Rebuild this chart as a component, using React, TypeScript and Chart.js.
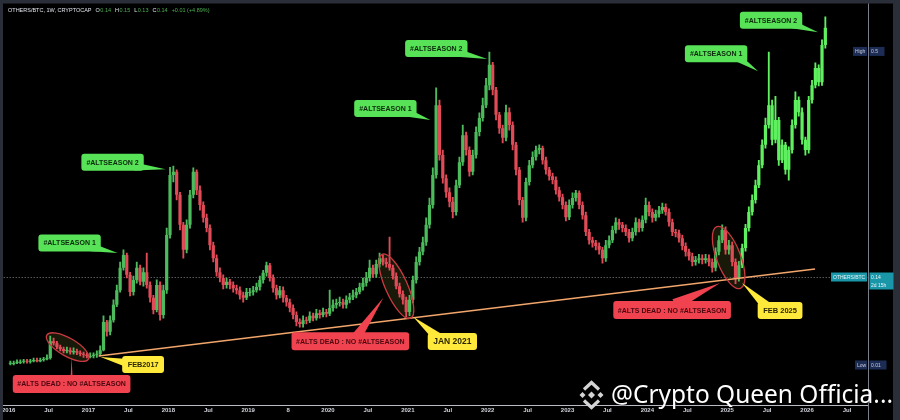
import React, { useEffect, useRef } from "react";
import { Chart, registerables } from "chart.js";

Chart.register(...registerables);

// ---------------- data (OTHERS/BTC, half-month candles) ----------------
const START_YEAR = 2016;
const PERIODS_PER_YEAR = 24;
const FIRST_OPEN = 0.012;

const CLOSE_2016 = [0.013, 0.013, 0.015, 0.015, 0.016, 0.015, 0.016, 0.018, 0.016, 0.018, 0.019, 0.021, 0.047, 0.044, 0.038, 0.035, 0.032, 0.033, 0.030, 0.032, 0.029, 0.027, 0.026, 0.024];
const HIGH_2016 = [0.016, 0.016, 0.018, 0.018, 0.019, 0.019, 0.019, 0.021, 0.021, 0.021, 0.022, 0.026, 0.055, 0.052, 0.047, 0.041, 0.038, 0.038, 0.037, 0.037, 0.035, 0.032, 0.030, 0.029];
const LOW_2016 = [0.010, 0.010, 0.012, 0.012, 0.013, 0.013, 0.013, 0.015, 0.015, 0.015, 0.016, 0.018, 0.019, 0.041, 0.035, 0.032, 0.029, 0.029, 0.027, 0.027, 0.026, 0.024, 0.022, 0.021];

const CLOSE_2017 = [0.024, 0.026, 0.027, 0.033, 0.077, 0.062, 0.080, 0.104, 0.127, 0.162, 0.182, 0.151, 0.124, 0.143, 0.162, 0.140, 0.155, 0.135, 0.115, 0.096, 0.135, 0.088, 0.127, 0.213];
const HIGH_2017 = [0.029, 0.029, 0.032, 0.040, 0.087, 0.080, 0.087, 0.112, 0.135, 0.171, 0.190, 0.185, 0.155, 0.149, 0.171, 0.166, 0.162, 0.185, 0.140, 0.119, 0.143, 0.140, 0.135, 0.224];
const LOW_2017 = [0.021, 0.021, 0.022, 0.024, 0.032, 0.055, 0.057, 0.077, 0.101, 0.124, 0.158, 0.146, 0.118, 0.119, 0.138, 0.135, 0.133, 0.130, 0.108, 0.090, 0.093, 0.080, 0.083, 0.122];

const CLOSE_2018 = [0.307, 0.312, 0.276, 0.229, 0.190, 0.229, 0.276, 0.312, 0.283, 0.260, 0.240, 0.224, 0.197, 0.177, 0.155, 0.146, 0.135, 0.140, 0.135, 0.130, 0.127, 0.119, 0.115, 0.124];
const HIGH_2018 = [0.319, 0.321, 0.315, 0.280, 0.233, 0.237, 0.283, 0.318, 0.315, 0.290, 0.265, 0.246, 0.229, 0.202, 0.182, 0.162, 0.151, 0.146, 0.144, 0.140, 0.135, 0.132, 0.124, 0.130];
const LOW_2018 = [0.208, 0.296, 0.268, 0.221, 0.177, 0.185, 0.224, 0.271, 0.276, 0.252, 0.233, 0.218, 0.190, 0.171, 0.149, 0.140, 0.129, 0.130, 0.129, 0.124, 0.121, 0.113, 0.108, 0.112];

const CLOSE_2019 = [0.124, 0.127, 0.132, 0.143, 0.154, 0.166, 0.146, 0.130, 0.119, 0.127, 0.115, 0.108, 0.099, 0.088, 0.077, 0.074, 0.080, 0.079, 0.087, 0.083, 0.091, 0.088, 0.093, 0.090];
const HIGH_2019 = [0.130, 0.133, 0.138, 0.149, 0.158, 0.171, 0.169, 0.151, 0.135, 0.133, 0.132, 0.119, 0.113, 0.104, 0.093, 0.082, 0.087, 0.085, 0.093, 0.091, 0.097, 0.096, 0.099, 0.097];
const LOW_2019 = [0.118, 0.119, 0.124, 0.127, 0.138, 0.149, 0.141, 0.124, 0.113, 0.115, 0.108, 0.102, 0.093, 0.082, 0.071, 0.069, 0.069, 0.074, 0.076, 0.079, 0.080, 0.083, 0.085, 0.085];

const CLOSE_2020 = [0.099, 0.104, 0.107, 0.108, 0.104, 0.112, 0.116, 0.119, 0.124, 0.132, 0.138, 0.146, 0.162, 0.152, 0.168, 0.177, 0.171, 0.168, 0.162, 0.149, 0.133, 0.121, 0.112, 0.093];
const HIGH_2020 = [0.127, 0.112, 0.113, 0.116, 0.113, 0.118, 0.122, 0.127, 0.130, 0.138, 0.146, 0.155, 0.174, 0.166, 0.174, 0.185, 0.182, 0.177, 0.210, 0.166, 0.154, 0.138, 0.126, 0.116];
const LOW_2020 = [0.087, 0.094, 0.099, 0.102, 0.099, 0.099, 0.107, 0.112, 0.115, 0.121, 0.127, 0.133, 0.141, 0.147, 0.147, 0.163, 0.166, 0.163, 0.158, 0.144, 0.129, 0.116, 0.105, 0.085];

const CLOSE_2021 = [0.112, 0.143, 0.171, 0.187, 0.202, 0.229, 0.260, 0.307, 0.416, 0.338, 0.302, 0.280, 0.265, 0.249, 0.291, 0.327, 0.369, 0.346, 0.312, 0.338, 0.374, 0.396, 0.416, 0.447];
const HIGH_2021 = [0.119, 0.149, 0.179, 0.194, 0.210, 0.240, 0.271, 0.318, 0.443, 0.424, 0.346, 0.307, 0.287, 0.272, 0.299, 0.335, 0.385, 0.374, 0.351, 0.346, 0.382, 0.404, 0.427, 0.458];
const LOW_2021 = [0.087, 0.107, 0.138, 0.166, 0.182, 0.197, 0.224, 0.255, 0.302, 0.330, 0.294, 0.272, 0.257, 0.240, 0.244, 0.287, 0.322, 0.338, 0.305, 0.307, 0.333, 0.368, 0.391, 0.412];

const CLOSE_2022 = [0.479, 0.440, 0.401, 0.380, 0.365, 0.405, 0.385, 0.354, 0.315, 0.268, 0.240, 0.296, 0.322, 0.335, 0.346, 0.349, 0.330, 0.315, 0.305, 0.299, 0.283, 0.272, 0.260, 0.241];
const HIGH_2022 = [0.499, 0.483, 0.444, 0.405, 0.385, 0.416, 0.412, 0.390, 0.358, 0.319, 0.272, 0.302, 0.330, 0.343, 0.352, 0.354, 0.352, 0.335, 0.319, 0.310, 0.304, 0.288, 0.277, 0.265];
const LOW_2022 = [0.440, 0.432, 0.393, 0.372, 0.357, 0.360, 0.377, 0.346, 0.307, 0.260, 0.233, 0.235, 0.291, 0.318, 0.330, 0.340, 0.324, 0.308, 0.299, 0.293, 0.277, 0.266, 0.254, 0.235];

const CLOSE_2023 = [0.260, 0.271, 0.279, 0.260, 0.244, 0.218, 0.205, 0.201, 0.196, 0.190, 0.177, 0.197, 0.205, 0.221, 0.233, 0.229, 0.224, 0.218, 0.208, 0.218, 0.233, 0.224, 0.237, 0.260];
const HIGH_2023 = [0.268, 0.279, 0.283, 0.282, 0.265, 0.249, 0.222, 0.210, 0.205, 0.201, 0.194, 0.205, 0.212, 0.227, 0.240, 0.238, 0.233, 0.229, 0.222, 0.224, 0.240, 0.238, 0.243, 0.271];
const LOW_2023 = [0.237, 0.255, 0.266, 0.254, 0.238, 0.212, 0.199, 0.194, 0.190, 0.183, 0.169, 0.172, 0.193, 0.201, 0.216, 0.222, 0.218, 0.212, 0.202, 0.204, 0.213, 0.218, 0.219, 0.232];

const CLOSE_2024 = [0.249, 0.240, 0.246, 0.252, 0.257, 0.249, 0.233, 0.218, 0.216, 0.208, 0.196, 0.187, 0.180, 0.171, 0.174, 0.177, 0.174, 0.177, 0.171, 0.162, 0.187, 0.205, 0.221, 0.190];
const HIGH_2024 = [0.265, 0.254, 0.252, 0.258, 0.263, 0.262, 0.254, 0.238, 0.222, 0.221, 0.213, 0.201, 0.191, 0.185, 0.180, 0.183, 0.182, 0.183, 0.182, 0.176, 0.193, 0.212, 0.229, 0.226];
const LOW_2024 = [0.243, 0.233, 0.235, 0.241, 0.247, 0.244, 0.227, 0.212, 0.210, 0.202, 0.190, 0.180, 0.174, 0.165, 0.166, 0.169, 0.168, 0.169, 0.165, 0.155, 0.157, 0.182, 0.201, 0.183];

const CLOSE_2025 = [0.197, 0.171, 0.146, 0.166, 0.193, 0.224, 0.249, 0.268, 0.291, 0.322, 0.354, 0.385, 0.416, 0.362, 0.393, 0.330, 0.354, 0.315, 0.346, 0.385, 0.424, 0.405, 0.362, 0.346];
const HIGH_2025 = [0.205, 0.202, 0.176, 0.172, 0.199, 0.230, 0.257, 0.276, 0.299, 0.330, 0.362, 0.396, 0.499, 0.424, 0.430, 0.397, 0.362, 0.358, 0.351, 0.393, 0.437, 0.429, 0.412, 0.366];
const LOW_2025 = [0.183, 0.165, 0.137, 0.141, 0.162, 0.188, 0.219, 0.244, 0.263, 0.287, 0.318, 0.349, 0.380, 0.354, 0.357, 0.322, 0.326, 0.308, 0.299, 0.341, 0.380, 0.399, 0.355, 0.338];

const CLOSE_2026 = [0.424, 0.447, 0.474, 0.452, 0.510, 0.537];
const HIGH_2026 = [0.430, 0.455, 0.482, 0.479, 0.518, 0.554];
const LOW_2026 = [0.341, 0.419, 0.443, 0.446, 0.447, 0.505];

const CLOSES = [...CLOSE_2016, ...CLOSE_2017, ...CLOSE_2018, ...CLOSE_2019, ...CLOSE_2020, ...CLOSE_2021, ...CLOSE_2022, ...CLOSE_2023, ...CLOSE_2024, ...CLOSE_2025, ...CLOSE_2026];
const HIGHS = [...HIGH_2016, ...HIGH_2017, ...HIGH_2018, ...HIGH_2019, ...HIGH_2020, ...HIGH_2021, ...HIGH_2022, ...HIGH_2023, ...HIGH_2024, ...HIGH_2025, ...HIGH_2026];
const LOWS = [...LOW_2016, ...LOW_2017, ...LOW_2018, ...LOW_2019, ...LOW_2020, ...LOW_2021, ...LOW_2022, ...LOW_2023, ...LOW_2024, ...LOW_2025, ...LOW_2026];

// candles after this date are drawn in the "projection" green
const PROJECTION_FROM = 2025.18;

// support trend line (time, value)
const TREND_X = [2017.126, 2026.1];
const TREND_Y = [0.024, 0.16];

// x-axis ticks
const TICK_VALUES = [2016, 2016.5, 2017, 2017.5, 2018, 2018.5, 2019, 2019.5, 2020, 2020.5, 2021, 2021.5, 2022, 2022.5, 2023, 2023.5, 2024, 2024.5, 2025, 2025.5, 2026, 2026.5];
const TICK_LABELS = ["2016", "Jul", "2017", "Jul", "2018", "Jul", "2019", "8", "2020", "Jul", "2021", "Jul", "2022", "Jul", "2023", "Jul", "2024", "Jul", "2025", "Jul", "2026", "Jul"];

// price scale labels
const HIGH_VALUE = 0.5;
const HIGH_TEXT = "0.5";
const LOW_VALUE = 0.01;
const LOW_TEXT = "0.01";
const LAST_VALUE = 0.1475;
const LAST_TEXT = "0.14";
const COUNTDOWN_TEXT = "2d 15h";
const SYMBOL_TEXT = "OTHERS/BTC";

// header
const HEADER_TITLE = "OTHERS/BTC, 1W, CRYPTOCAP";
const HEADER_OHLC = [["O", "0.14"], ["H", "0.15"], ["L", "0.13"], ["C", "0.14"]];
const HEADER_CHANGE = "+0.01 (+4.89%)";

const WATERMARK = "@Crypto Queen Officia...";

// annotations (anchor in data coords, box offset in px)
const CALLOUTS = [
  { text: "#ALTSEASON 1", kind: "green", x: 2017.364, y: 0.185, dx: -48, dy: -10, ax: 0.7, ay: 0.5, bw: 4, size: 7 },
  { text: "#ALTSEASON 2", kind: "green", x: 2017.965, y: 0.316, dx: -53, dy: -7, ax: 0.7, ay: 0.5, bw: 4, size: 7 },
  { text: "#ALTSEASON 1", kind: "green", x: 2021.282, y: 0.393, dx: -45, dy: -11.5, ax: 0.7, ay: 0.5, bw: 4, size: 7 },
  { text: "#ALTSEASON 2", kind: "green", x: 2021.995, y: 0.488, dx: -51, dy: -10.5, ax: 0.7, ay: 0.5, bw: 4, size: 7 },
  { text: "#ALTSEASON 1", kind: "green", x: 2025.387, y: 0.469, dx: -42, dy: -17.5, ax: 0.7, ay: 0.5, bw: 4, size: 7 },
  { text: "#ALTSEASON 2", kind: "green", x: 2026.138, y: 0.53, dx: -47, dy: -12, ax: 0.7, ay: 0.5, bw: 4, size: 7 },
  { text: "#ALTS DEAD : NO #ALTSEASON", kind: "red", x: 2016.788, y: 0.0225, dx: 0, dy: 27, ax: 0, ay: -0.6, bw: 1, size: 7 },
  { text: "#ALTS DEAD : NO #ALTSEASON", kind: "red", x: 2020.693, y: 0.115, dx: -33, dy: 43.5, ax: 0.12, ay: -0.6, bw: 5, size: 7 },
  { text: "#ALTS DEAD : NO #ALTSEASON", kind: "red", x: 2024.911, y: 0.138, dx: -48, dy: 27, ax: 0.05, ay: -0.6, bw: 6, size: 7 },
  { text: "FEB2017", kind: "yellow", x: 2017.151, y: 0.0225, dx: 42.5, dy: 7.5, ax: -0.8, ay: -0.2, bw: 4, size: 7.3 },
  { text: "JAN 2021", kind: "yellow", x: 2021.069, y: 0.085, dx: 39, dy: 24.5, ax: -0.6, ay: -0.5, bw: 5, size: 8.5 },
  { text: "FEB 2025", kind: "yellow", x: 2025.186, y: 0.138, dx: 38, dy: 27.5, ax: -0.6, ay: -0.5, bw: 5, size: 7.5 },
];

const ELLIPSES = [
  { x: 2016.738, y: 0.038, rx: 24, ry: 9, rot: 30 },
  { x: 2020.856, y: 0.133, rx: 35, ry: 11, rot: 66 },
  { x: 2025.018, y: 0.178, rx: 33, ry: 12, rot: 69 },
];

// ---------------- styles ----------------
const UP = "#4cbb5c";
const DOWN = "#e04b57";
const PROJ = "#5ef05e";
const FRAME = "#2a2e39";
const FONT = '"Liberation Sans", Arial, sans-serif';
const KIND_STYLE: Record<string, { bg: string; fg: string; h: number; pad: number }> = {
  green: { bg: "#57e257", fg: "#0d2a0d", h: 17, pad: 10 },
  red: { bg: "#f0434f", fg: "#4d0710", h: 18, pad: 9 },
  yellow: { bg: "#ffe93a", fg: "#2b2600", h: 17, pad: 11 },
};

// ---------------- derived ----------------
const TIMES = CLOSES.map((_, i) => START_YEAR + (i + 0.5) / PERIODS_PER_YEAR);
const OPENS = CLOSES.map((_, i) => (i === 0 ? FIRST_OPEN : CLOSES[i - 1]));
const COLORS = CLOSES.map((c, i) => (TIMES[i] >= PROJECTION_FROM ? PROJ : c >= OPENS[i] ? UP : DOWN));

function roundRect(ctx: CanvasRenderingContext2D, x: number, y: number, w: number, h: number, r: number) {
  ctx.beginPath();
  ctx.moveTo(x + r, y);
  ctx.lineTo(x + w - r, y);
  ctx.quadraticCurveTo(x + w, y, x + w, y + r);
  ctx.lineTo(x + w, y + h - r);
  ctx.quadraticCurveTo(x + w, y + h, x + w - r, y + h);
  ctx.lineTo(x + r, y + h);
  ctx.quadraticCurveTo(x, y + h, x, y + h - r);
  ctx.lineTo(x, y + r);
  ctx.quadraticCurveTo(x, y, x + r, y);
  ctx.closePath();
}

function diamond(ctx: CanvasRenderingContext2D, cx: number, cy: number, r: number) {
  ctx.beginPath();
  ctx.moveTo(cx, cy - r);
  ctx.lineTo(cx + r, cy);
  ctx.lineTo(cx, cy + r);
  ctx.lineTo(cx - r, cy);
  ctx.closePath();
  ctx.fill();
}

const tvPlugin = {
  id: "tvDecor",
  beforeDraw(chart: any) {
    const { ctx, width, height } = chart;
    ctx.save();
    ctx.fillStyle = "#000";
    ctx.fillRect(0, 0, width, height);
    ctx.restore();
  },
  beforeDatasetsDraw(chart: any) {
    const { ctx, chartArea, scales } = chart;
    ctx.save();
    const ly = Math.round(scales.y.getPixelForValue(LAST_VALUE)) + 0.5;
    ctx.strokeStyle = "#80838c";
    ctx.lineWidth = 1;
    ctx.setLineDash([1, 2]);
    ctx.beginPath();
    ctx.moveTo(chartArea.left, ly);
    ctx.lineTo(chartArea.right, ly);
    ctx.stroke();
    ctx.setLineDash([]);
    ctx.fillStyle = "rgba(70,72,22,0.35)";
    ELLIPSES.forEach((e) => {
      ctx.beginPath();
      ctx.ellipse(scales.x.getPixelForValue(e.x), scales.y.getPixelForValue(e.y), e.rx, e.ry, (e.rot * Math.PI) / 180, 0, Math.PI * 2);
      ctx.fill();
    });
    ctx.restore();
  },
  afterDatasetsDraw(chart: any) {
    const { ctx, scales } = chart;
    ctx.save();
    ctx.strokeStyle = "#c93a43";
    ctx.lineWidth = 1.3;
    ELLIPSES.forEach((e) => {
      ctx.beginPath();
      ctx.ellipse(scales.x.getPixelForValue(e.x), scales.y.getPixelForValue(e.y), e.rx, e.ry, (e.rot * Math.PI) / 180, 0, Math.PI * 2);
      ctx.stroke();
    });
    CALLOUTS.forEach((c) => {
      const st = KIND_STYLE[c.kind];
      const tipX = scales.x.getPixelForValue(c.x);
      const tipY = scales.y.getPixelForValue(c.y);
      ctx.font = `bold ${c.size}px ${FONT}`;
      const tw = ctx.measureText(c.text).width;
      const w = tw + st.pad;
      const h = st.h;
      const cx = tipX + c.dx;
      const cy = tipY + c.dy;
      const axp = cx + (c.ax * w) / 2;
      const ayp = cy + (c.ay * h) / 2;
      const vx = tipX - axp;
      const vy = tipY - ayp;
      const len = Math.hypot(vx, vy) || 1;
      const px = -vy / len;
      const py = vx / len;
      ctx.fillStyle = st.bg;
      ctx.beginPath();
      ctx.moveTo(axp + px * c.bw, ayp + py * c.bw);
      ctx.lineTo(tipX, tipY);
      ctx.lineTo(axp - px * c.bw, ayp - py * c.bw);
      ctx.closePath();
      ctx.fill();
      roundRect(ctx, cx - w / 2, cy - h / 2, w, h, 3);
      ctx.fill();
      ctx.fillStyle = st.fg;
      ctx.textAlign = "center";
      ctx.textBaseline = "middle";
      ctx.fillText(c.text, cx, cy + 0.5);
    });
    ctx.restore();
  },
  afterDraw(chart: any) {
    const { ctx, width, height, chartArea, scales } = chart;
    const R = chartArea.right;
    ctx.save();
    ctx.fillStyle = FRAME;
    ctx.fillRect(0, 0, width, 3.5);
    ctx.fillRect(0, 0, 3, height);
    ctx.fillRect(width - 7, 0, 7, height);
    ctx.strokeStyle = "#7b7f89";
    ctx.lineWidth = 1;
    ctx.beginPath();
    ctx.moveTo(Math.round(R) + 0.5, 3.5);
    ctx.lineTo(Math.round(R) + 0.5, height);
    ctx.stroke();

    ctx.font = `5px ${FONT}`;
    ctx.textBaseline = "middle";
    ctx.textAlign = "left";
    const pair = (v: number, left: string, lw: number, right: string[], rw: number, lbg: string, rbg: string, fg: string) => {
      const y = scales.y.getPixelForValue(v);
      ctx.fillStyle = lbg;
      ctx.fillRect(R - lw - 1, y - 4.5, lw, 9);
      const rh = right.length > 1 ? 17 : 9;
      ctx.fillStyle = rbg;
      ctx.fillRect(R + 1.5, y - 4.5, rw, rh);
      ctx.fillStyle = fg;
      ctx.fillText(left, R - lw + 1, y + 0.3);
      right.forEach((t, k) => ctx.fillText(t, R + 3, y + 0.3 + k * 8.5));
    };
    pair(HIGH_VALUE, "High", 14, [HIGH_TEXT], 15, "#1c2c55", "#1c2c55", "#c7cbd6");
    pair(LOW_VALUE, "Low", 12, [LOW_TEXT], 17, "#1c2c55", "#1c2c55", "#c7cbd6");
    pair(LAST_VALUE, SYMBOL_TEXT, 36, [LAST_TEXT, COUNTDOWN_TEXT], 24, "#1996a8", "#1996a8", "#e8f4f6");

    ctx.font = `5.5px ${FONT}`;
    ctx.textAlign = "left";
    ctx.textBaseline = "middle";
    let hx = 8;
    const hy = 10.5;
    ctx.fillStyle = "#e0e3ea";
    ctx.fillText(HEADER_TITLE, hx, hy);
    hx += ctx.measureText(HEADER_TITLE).width + 4;
    HEADER_OHLC.forEach(([k, v]) => {
      ctx.fillStyle = "#e0e3ea";
      ctx.fillText(k, hx, hy);
      hx += ctx.measureText(k).width + 0.5;
      ctx.fillStyle = "#4caf50";
      ctx.fillText(v, hx, hy);
      hx += ctx.measureText(v).width + 4;
    });
    ctx.fillStyle = "#4caf50";
    ctx.fillText(HEADER_CHANGE, hx, hy);

    ctx.save();
    ctx.font = `26px "Noto Sans", "Open Sans", sans-serif`;
    const ww = ctx.measureText(WATERMARK).width;
    ctx.translate(611, 403);
    ctx.scale(282 / ww, 1);
    ctx.textBaseline = "alphabetic";
    ctx.fillStyle = "rgba(0,0,0,0.35)";
    ctx.fillText(WATERMARK, 1, 1);
    ctx.fillStyle = "#ffffff";
    ctx.fillText(WATERMARK, 0, 0);
    ctx.restore();
    const lx = 591.5;
    const lyy = 395;
    ctx.fillStyle = "#d4d4d4";
    diamond(ctx, lx, lyy, 3.5);
    diamond(ctx, lx - 9, lyy, 3);
    diamond(ctx, lx + 9, lyy, 3);
    ctx.strokeStyle = "#d4d4d4";
    ctx.lineWidth = 3.2;
    ctx.beginPath();
    ctx.moveTo(lx - 7.5, lyy - 5.5);
    ctx.lineTo(lx, lyy - 12.5);
    ctx.lineTo(lx + 7.5, lyy - 5.5);
    ctx.moveTo(lx - 7.5, lyy + 5.5);
    ctx.lineTo(lx, lyy + 12.5);
    ctx.lineTo(lx + 7.5, lyy + 5.5);
    ctx.stroke();
    ctx.restore();
  },
};

export default function App() {
  const ref = useRef<HTMLCanvasElement>(null);
  useEffect(() => {
    document.body.style.margin = "0";
    document.body.style.background = "#000";
    const canvas = ref.current;
    if (!canvas) return;
    const bodies = TIMES.map((t, i) => ({ x: t, y: [Math.min(OPENS[i], CLOSES[i]), Math.max(OPENS[i], CLOSES[i])] }));
    const wicks = TIMES.map((t, i) => ({ x: t, y: [LOWS[i], HIGHS[i]] }));
    const trend = TREND_X.map((x, i) => ({ x, y: TREND_Y[i] }));
    const chart = new Chart(canvas, {
      type: "bar",
      data: {
        datasets: [
          {
            type: "line",
            data: trend as any,
            borderColor: "#f2a66b",
            borderWidth: 1.5,
            pointRadius: 0,
            order: 0,
          } as any,
          {
            type: "bar",
            data: bodies as any,
            backgroundColor: COLORS,
            borderWidth: 0,
            grouped: false,
            barPercentage: 0.97,
            categoryPercentage: 1,
            minBarLength: 1,
            order: 1,
          } as any,
          {
            type: "bar",
            data: wicks as any,
            backgroundColor: COLORS,
            borderWidth: 0,
            grouped: false,
            barThickness: 1.2,
            order: 2,
          } as any,
        ],
      },
      options: {
        animation: false,
        responsive: true,
        maintainAspectRatio: false,
        events: [],
        layout: { padding: { left: 3, top: 4, right: 0, bottom: 0 } },
        plugins: { legend: { display: false }, tooltip: { enabled: false }, title: { display: false } },
        scales: {
          x: {
            type: "linear",
            min: 2015.9374,
            max: 2026.7635,
            offset: false,
            grid: { display: false, drawTicks: false },
            border: { display: true, color: "#b8bbc2", width: 1 },
            ticks: {
              autoSkip: false,
              maxRotation: 0,
              padding: 2,
              color: "#d1d4dc",
              font: { size: 6, weight: "bold", family: FONT },
              callback: (_v: any, i: number) => TICK_LABELS[i],
            },
            afterBuildTicks: (axis: any) => {
              axis.ticks = TICK_VALUES.map((v) => ({ value: v }));
            },
            afterFit: (axis: any) => {
              axis.height = 15;
            },
          },
          y: {
            type: "linear",
            position: "right",
            min: -0.0525,
            max: 0.5741,
            grid: { display: false, drawTicks: false },
            border: { display: false },
            ticks: { display: false },
            afterFit: (axis: any) => {
              axis.width = 32;
            },
          },
        },
      } as any,
      plugins: [tvPlugin],
    });
    return () => chart.destroy();
  }, []);
  return (
    <div style={{ width: 900, height: 420, position: "relative", background: "#000" }}>
      <canvas ref={ref} style={{ display: "block" }} />
    </div>
  );
}
